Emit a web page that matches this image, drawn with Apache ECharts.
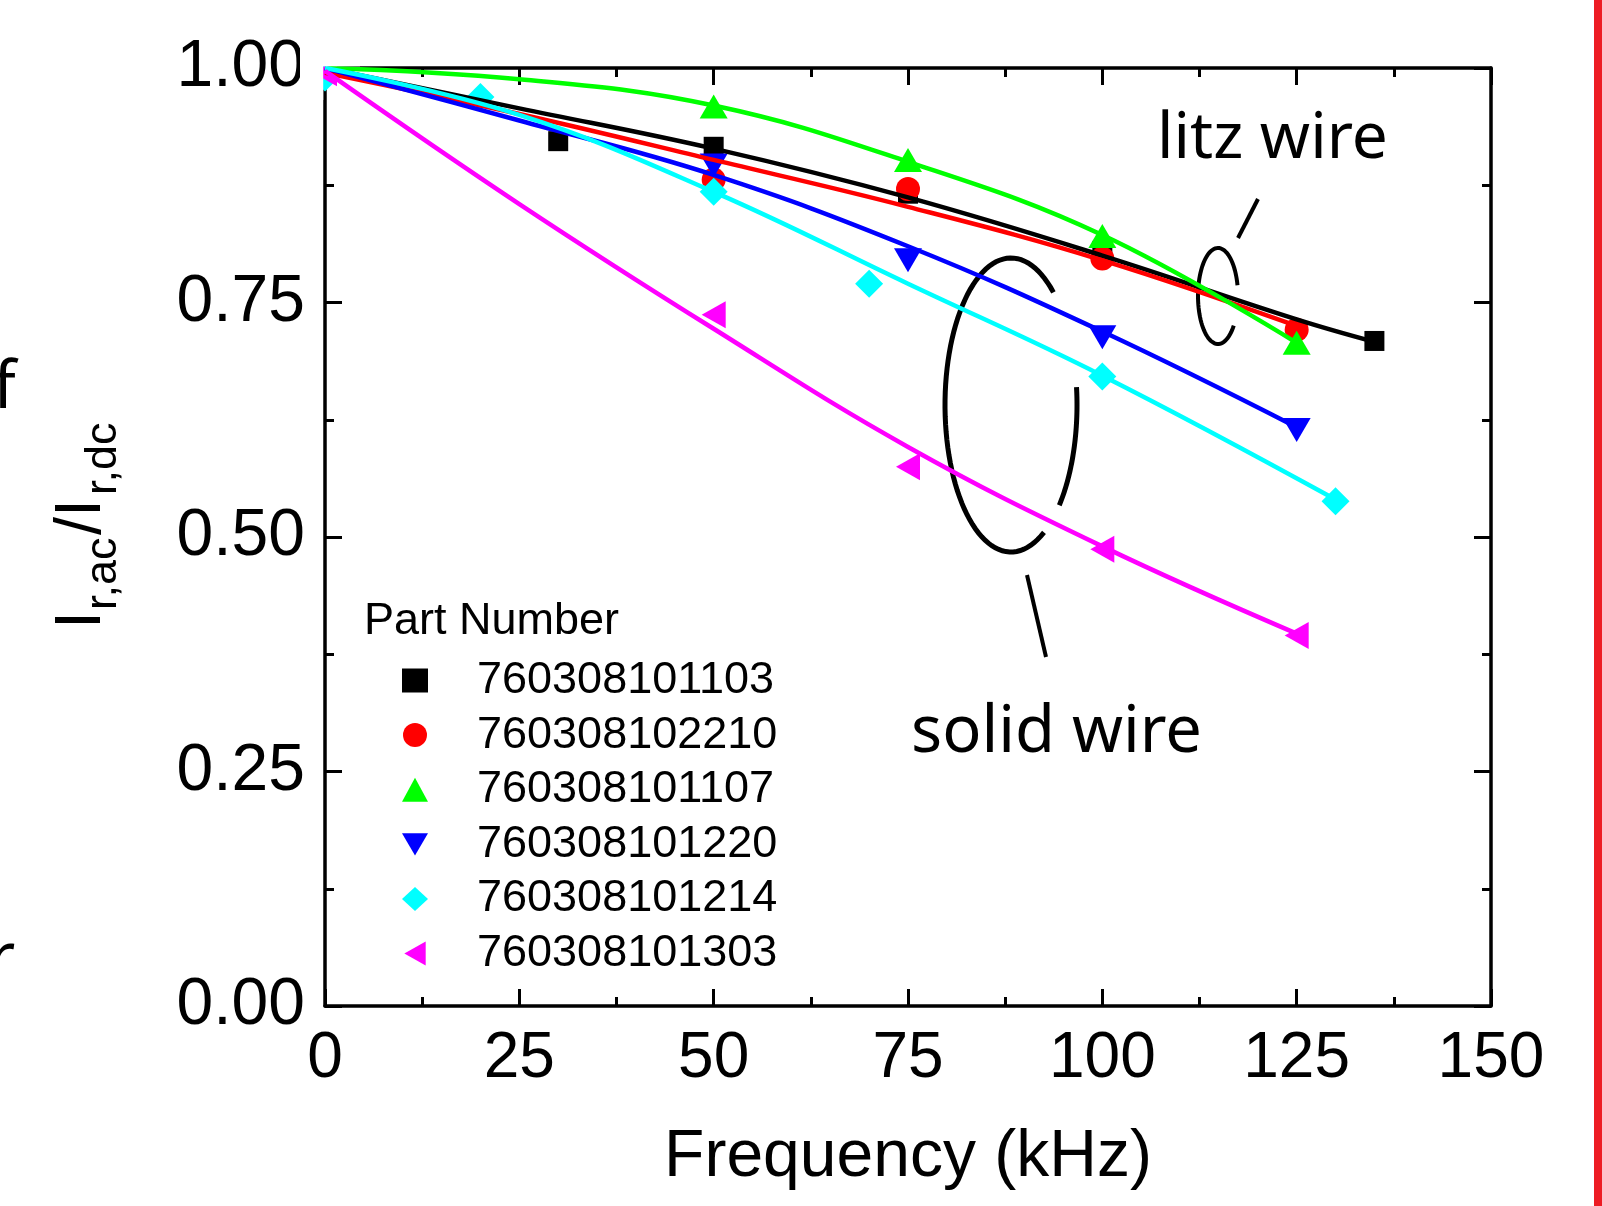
<!DOCTYPE html>
<html>
<head>
<meta charset="utf-8">
<script src="https://cdn.jsdelivr.net/npm/echarts@6/dist/echarts.min.js"></script>
<style>
html,body{margin:0;padding:0;background:#fff;}
#chart{width:1602px;height:1206px;}
</style>
</head>
<body>
<div id="chart"></div>
<script>
// ---- data ----
const partNumbers = ['760308101103','760308102210','760308101107','760308101220','760308101214','760308101303'];
const colors = ['#000000','#ff0000','#00ff00','#0000ff','#00ffff','#ff00ff'];

const freqBlack = [30, 50, 75, 100, 135];
const valBlack  = [0.922, 0.916, 0.866, 0.805, 0.709];
const freqRed   = [0, 50, 75, 100, 125];
const valRed    = [0.995, 0.881, 0.871, 0.797, 0.721];
const freqGreen = [50, 75, 100, 125];
const valGreen  = [0.959, 0.902, 0.821, 0.707];
const freqBlue  = [50, 75, 100, 125];
const valBlue   = [0.896, 0.795, 0.713, 0.614];
const freqCyan  = [0, 20, 50, 70, 100, 130];
const valCyan   = [0.99, 0.969, 0.868, 0.770, 0.671, 0.538];
const freqMag   = [0, 50, 75, 100, 125];
const valMag    = [0.995, 0.737, 0.575, 0.487, 0.395];

// fitted curves
const fitFreqBlack = [0, 25, 50, 75, 100, 125, 135];
const fitValBlack  = [1.0, 0.957, 0.914, 0.862, 0.800, 0.732, 0.708];
const fitFreqRed   = [0, 25, 50, 75, 100, 125];
const fitValRed    = [0.995, 0.951, 0.902, 0.852, 0.795, 0.725];
const fitFreqGreen = [0, 25, 50, 75, 100, 125];
const fitValGreen  = [1.0, 0.988, 0.960, 0.900, 0.822, 0.707];
const fitFreqBlue  = [0, 25, 50, 75, 100, 125];
const fitValBlue   = [1.0, 0.944, 0.886, 0.810, 0.719, 0.617];
const fitFreqCyan  = [0, 25, 50, 75, 100, 130];
const fitValCyan   = [1.0, 0.950, 0.868, 0.770, 0.672, 0.540];
const fitFreqMag   = [0, 25, 50, 75, 100, 125];
const fitValMag    = [0.997, 0.855, 0.722, 0.596, 0.490, 0.397];

const xTicks = [0, 25, 50, 75, 100, 125, 150];
const yTicks = [0.00, 0.25, 0.50, 0.75, 1.00];

// ---- build ----
const pts = (xs, ys) => xs.map((x, i) => [x, ys[i]]);
const markerData = [
  pts(freqBlack, valBlack), pts(freqRed, valRed), pts(freqGreen, valGreen),
  pts(freqBlue, valBlue), pts(freqCyan, valCyan), pts(freqMag, valMag)
];
const fitData = [
  pts(fitFreqBlack, fitValBlack), pts(fitFreqRed, fitValRed), pts(fitFreqGreen, fitValGreen),
  pts(fitFreqBlue, fitValBlue), pts(fitFreqCyan, fitValCyan), pts(fitFreqMag, fitValMag)
];
const symbols = [
  'rect', 'circle', 'triangle',
  'path://M0,0L28,0L14,24Z',
  'diamond',
  'path://M0,13.5L24,0L24,27Z'
];
const symbolSizes = [[20,20], [24,24], [28,24], [28,24], [28,28], [24,27]];

const series = [];
for (let i = 0; i < 6; i++) {
  series.push({
    type: 'scatter', name: partNumbers[i], data: markerData[i],
    symbol: symbols[i], symbolSize: symbolSizes[i],
    itemStyle: { color: colors[i], opacity: 1 }, z: 3, silent: true
  });
}
for (let i = 0; i < 6; i++) {
  series.push({
    type: 'line', name: 'fit' + i, data: fitData[i], smooth: 0.4, showSymbol: false,
    lineStyle: { color: colors[i], width: 4.5 }, z: 4, silent: true
  });
}

const axisCommon = {
  type: 'value',
  axisLine: { show: true, onZero: false, lineStyle: { color: '#000', width: 3.5 } },
  axisTick: { show: true, inside: true, length: 17, lineStyle: { color: '#000', width: 3 } },
  minorTick: { show: true, splitNumber: 2, length: 9, lineStyle: { color: '#000', width: 3 } },
  splitLine: { show: false }, minorSplitLine: { show: false }
};
const numFont = 'Liberation Sans';

function ellipsePts(cx, cy, rx, ry, a0, a1) {
  const out = [];
  const n = 80;
  for (let k = 0; k <= n; k++) {
    const t = (a0 + (a1 - a0) * k / n) * Math.PI / 180;
    out.push([cx + rx * Math.cos(t), cy + ry * Math.sin(t)]);
  }
  return out;
}

const chart = echarts.init(document.getElementById('chart'), null, { renderer: 'canvas' });
chart.setOption({
  backgroundColor: '#ffffff',
  animation: false,
  grid: { left: 325, top: 68, width: 1166, height: 938 },
  xAxis: [
    Object.assign({}, axisCommon, {
      position: 'bottom', min: 0, max: 150, interval: 25,
      axisLabel: { show: true, margin: 21, fontSize: 64, fontFamily: numFont, color: '#000',
        formatter: v => xTicks.includes(v) ? String(v) : '' },
      name: 'Frequency (kHz)', nameLocation: 'middle', nameGap: 119,
      nameTextStyle: { fontSize: 66, fontFamily: numFont, color: '#000' }
    }),
    Object.assign({}, axisCommon, {
      position: 'top', min: 0, max: 150, interval: 25, axisLabel: { show: false }
    })
  ],
  yAxis: [
    Object.assign({}, axisCommon, {
      position: 'left', min: 0, max: 1, interval: 0.25,
      axisLabel: { show: true, margin: 20, fontSize: 66, fontFamily: numFont, color: '#000',
        formatter: v => yTicks.some(t => Math.abs(t - v) < 1e-9) ? v.toFixed(2) : '' }
    }),
    Object.assign({}, axisCommon, {
      position: 'right', min: 0, max: 1, interval: 0.25, axisLabel: { show: false }
    })
  ],
  legend: {
    data: partNumbers, orient: 'vertical', left: 397, top: 653,
    itemWidth: 26, itemHeight: 24, itemGap: 9.6,
    textStyle: { fontSize: 45, fontFamily: numFont, color: '#000', lineHeight: 44, padding: [0, 0, 0, 44] },
    selectedMode: false, inactiveColor: '#000'
  },
  series: series,
  graphic: [
    // masks emulating the clipping of the origin markers by the frame
    { type: 'rect', z: 50, shape: { x: 300, y: 45, width: 23.2, height: 55 }, style: { fill: '#fff' }, silent: true },
    { type: 'rect', z: 50, shape: { x: 300, y: 40, width: 60, height: 26.2 }, style: { fill: '#fff' }, silent: true },
    { type: 'rect', shape: { x: 1594, y: 0, width: 8, height: 1206 }, style: { fill: '#ed1c24' }, silent: true },
    { type: 'text', x: 364, y: 622, style: { text: 'Part Number', font: '45px "Liberation Sans"', fill: '#000', align: 'left', verticalAlign: 'middle' } },
    { type: 'text', x: 1157, y: 140, style: { text: 'litz wire', font: '64px "Noto Sans"', fill: '#000', align: 'left', verticalAlign: 'middle' } },
    { type: 'text', x: 911, y: 733, style: { text: 'solid wire', font: '65px "Noto Sans"', fill: '#000', align: 'left', verticalAlign: 'middle' } },
    { type: 'text', x: -7, y: 389, style: { text: 'f', font: '66px "Noto Sans"', fill: '#000', align: 'left', verticalAlign: 'middle' } },
    { type: 'text', x: -12, y: 960, style: { text: 'r', font: '66px "Noto Sans"', fill: '#000', align: 'left', verticalAlign: 'middle' } },
    // y-axis title (rotated)
    { type: 'group', x: 82.5, y: 629, rotation: Math.PI / 2, children: [
      { type: 'text', x: 0, y: 0, style: { text: 'I', font: '65px "Liberation Sans"', fill: '#000', align: 'left', verticalAlign: 'middle' } },
      { type: 'text', x: 19, y: 21, style: { text: 'r,ac', font: '45px "Liberation Sans"', fill: '#000', align: 'left', verticalAlign: 'middle' } },
      { type: 'text', x: 94, y: 0, style: { text: '/I', font: '65px "Liberation Sans"', fill: '#000', align: 'left', verticalAlign: 'middle' } },
      { type: 'text', x: 134, y: 21, style: { text: 'r,dc', font: '45px "Liberation Sans"', fill: '#000', align: 'left', verticalAlign: 'middle' } }
    ]},
    // annotation ellipses and leader lines
    { type: 'polyline', shape: { points: ellipsePts(1011, 405, 66, 147, 60, 310) }, style: { stroke: '#000', lineWidth: 5, fill: null }, silent: true },
    { type: 'polyline', shape: { points: ellipsePts(1011, 405, 66, 147, -7, 43) }, style: { stroke: '#000', lineWidth: 5, fill: null }, silent: true },
    { type: 'polyline', shape: { points: ellipsePts(1218, 296, 20, 48, 38, 347) }, style: { stroke: '#000', lineWidth: 4, fill: null }, silent: true },
    { type: 'line', shape: { x1: 1238, y1: 238, x2: 1258, y2: 199 }, style: { stroke: '#000', lineWidth: 4 }, silent: true },
    { type: 'line', shape: { x1: 1027, y1: 575, x2: 1046, y2: 657 }, style: { stroke: '#000', lineWidth: 4 }, silent: true }
  ]
});
</script>
</body>
</html>
